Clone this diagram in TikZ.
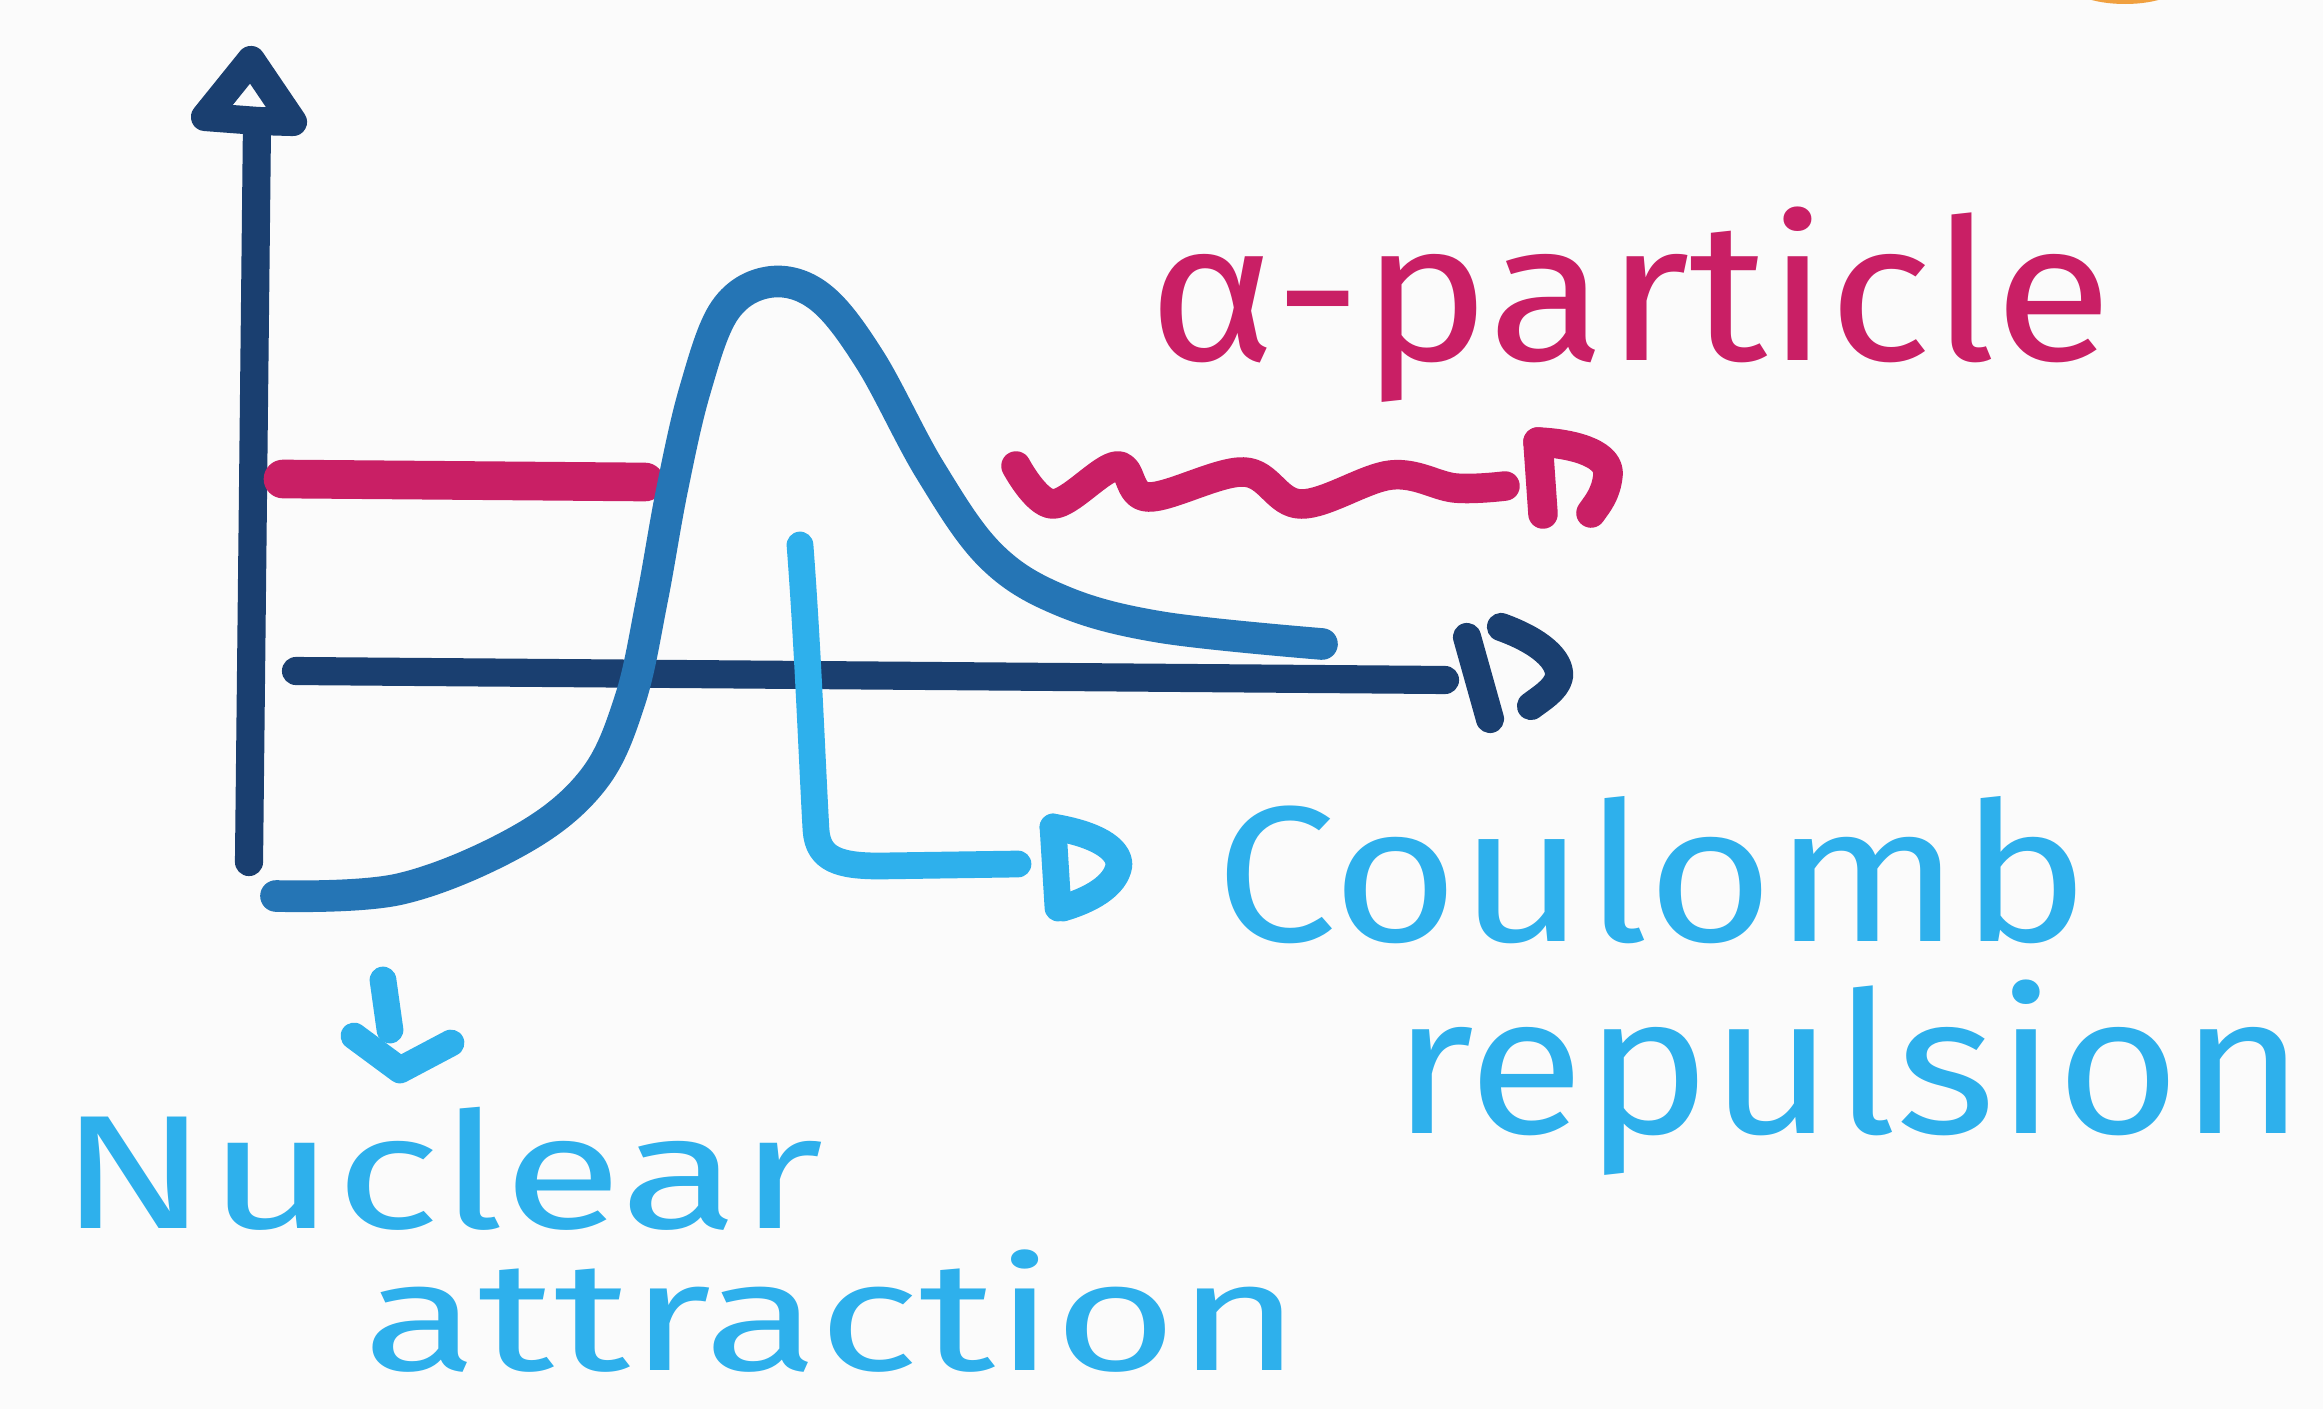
\documentclass[tikz,border=0pt]{standalone}
\usepackage{fontspec}
\setmainfont{Fira Sans}
\usepackage{graphicx}
\definecolor{bg}{HTML}{FBFBFB}
\definecolor{navy}{HTML}{1A3F70}
\definecolor{curveblue}{HTML}{2575B5}
\definecolor{lightblue}{HTML}{2EB0EC}
\definecolor{magenta}{HTML}{C91F65}
\definecolor{orangeblob}{HTML}{F0A040}
\tikzset{
  axisline/.style={draw=navy, line width=8pt, line cap=round, line join=round},
  potcurve/.style={draw=curveblue, line width=9pt, line cap=round, line join=round},
  pointer/.style={draw=lightblue, line width=7.6pt, line cap=round, line join=round},
  alphaline/.style={draw=magenta, line width=8.4pt, line cap=round, line join=round},
  bluetext/.style={text=lightblue, inner sep=0pt, anchor=base west},
  pinktext/.style={text=magenta, inner sep=0pt, anchor=base west},
}
\begin{document}
\begin{tikzpicture}[x=0.01cm, y=-0.01cm]
\useasboundingbox (0,0) rectangle (2323,1409);
\fill[bg] (0,0) rectangle (2323,1409);
% orange blob at top edge
\begin{scope}
\clip (0,0) rectangle (2323,1409);
\fill[orangeblob] (2125,-18) ellipse [x radius=58, y radius=22];
\end{scope}

% y axis
\coordinate (ytop) at (257,124);
\coordinate (ybot) at (249,862);
\draw[axisline] (ybot) -- (ytop);
\draw[axisline] (258,121) -- (205,117) -- (251,60) -- (293,122) -- cycle;

% x axis
\coordinate (xstart) at (296,671);
\coordinate (xend) at (1445,680);
\draw[axisline] (xstart) -- (xend);
\draw[axisline] (1467,637) -- (1490,719);
\draw[axisline] (1501,627) .. controls (1540,641) and (1561,660) .. (1559,677) .. controls (1556,690) and (1540,699) .. (1531,706);

% alpha energy level
\draw[alphaline, line width=11pt] (283,479) -- (645,482);

% potential curve
\draw[potcurve] plot[smooth, tension=0.6] coordinates {
  (276,896) (400,889) (520,840) (593,780) (630,700) (652,600) (672,490) (695,390) (725,310) (770,282) (820,297) (870,360) (930,470) (990,555) (1060,600) (1160,627) (1322,644)};

% wavy alpha-particle
\draw[alphaline] plot[smooth, tension=0.6] coordinates {
  (1016,466) (1053,504) (1117,466) (1148,497) (1244,472) (1301,504) (1391,475) (1455,488) (1505,486)};
\draw[alphaline] (1538,442) -- (1543,514);
\draw[alphaline] (1538,442) .. controls (1580,444) and (1610,456) .. (1608,475) .. controls (1606,494) and (1598,503) .. (1591,513);

% coulomb pointer
\coordinate (cpstart) at (800,545);
\draw[pointer] (cpstart) .. controls (808,650) and (812,760) .. (816,830) .. controls (818,860) and (840,866) .. (880,866) -- (1018,864);
\draw[pointer] (1053,827) -- (1058,908);
\draw[pointer] (1053,827) .. controls (1095,834) and (1119,848) .. (1119,865) .. controls (1116,886) and (1090,900) .. (1063,908);

% nuclear arrow
\draw[pointer] (383,980) -- (390,1030);
\draw[pointer] (354,1036) -- (400,1070) -- (451,1043);

% labels
\node[pinktext, font=\fontsize{56}{60}\selectfont] (alphalbl) at (1148,360) {\scalebox{1.1}[1]{α-particle}};
\node[bluetext, font=\fontsize{55}{60}\selectfont] (coul) at (1215,941) {\scalebox{1.12}[1]{Coulomb}};
\node[bluetext, font=\fontsize{56}{60}\selectfont] (rep) at (1392,1133) {\scalebox{1.08}[1]{repulsion}};
\node[bluetext, font=\fontsize{46}{50}\selectfont] (nuc) at (59,1228) {\scalebox{1.35}[1]{Nuclear}};
\node[bluetext, font=\fontsize{44}{50}\selectfont] (att) at (363,1370) {\scalebox{1.36}[1]{attraction}};
\end{tikzpicture}
\end{document}
